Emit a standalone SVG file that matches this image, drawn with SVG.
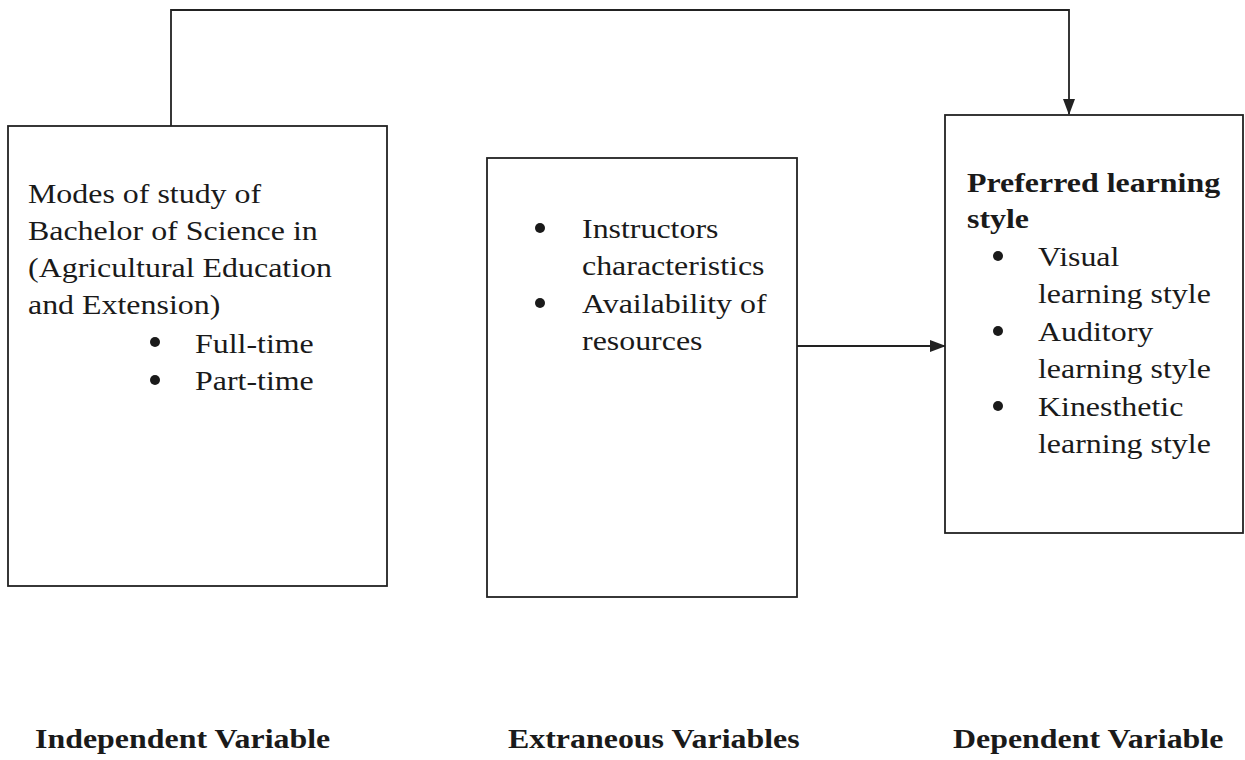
<svg xmlns="http://www.w3.org/2000/svg" width="1245" height="760" viewBox="0 0 1245 760">
<style>
.box{fill:#fff;stroke:#222;stroke-width:1.8}
.t{font-family:"Liberation Serif","Times New Roman",serif;font-size:28px;fill:#1a1a1a}
.b{font-weight:bold}
.line{fill:none;stroke:#222;stroke-width:1.8}
.dot{fill:#1a1a1a}
</style>
<defs>
<marker id="arr" markerWidth="16" markerHeight="12" refX="15" refY="6" orient="auto" markerUnits="userSpaceOnUse">
<path d="M0,0 L16,6 L0,12 Z" fill="#222"/>
</marker>
</defs>
<rect width="1245" height="760" fill="#fff"/>
<g id="connectors">
<path class="line" d="M171,126 V10 H1069 V114" marker-end="url(#arr)"/>
<path class="line" d="M796,346 H945" marker-end="url(#arr)"/>
</g>
<g id="independent">
<rect class="box" x="8" y="126" width="379" height="460"/>
<text class="t" transform="translate(28 203) scale(1.14 1)"><tspan x="0">Modes of study of</tspan><tspan x="0" dy="37">Bachelor of Science in</tspan><tspan x="0" dy="37">(Agricultural Education</tspan><tspan x="0" dy="37">and Extension)</tspan></text>
<circle class="dot" cx="155" cy="342" r="5"/>
<circle class="dot" cx="155" cy="380" r="5"/>
<text class="t" transform="translate(195 353) scale(1.14 1)">Full-time</text>
<text class="t" transform="translate(195 390) scale(1.14 1)">Part-time</text>
</g>
<g id="extraneous">
<rect class="box" x="487" y="158" width="310" height="439"/>
<circle class="dot" cx="540" cy="228" r="5"/>
<circle class="dot" cx="540" cy="303" r="5"/>
<text class="t" transform="translate(582 238) scale(1.14 1)"><tspan x="0">Instructors</tspan><tspan x="0" dy="37">characteristics</tspan></text>
<text class="t" transform="translate(582 313) scale(1.14 1)"><tspan x="0">Availability of</tspan><tspan x="0" dy="37">resources</tspan></text>
</g>
<g id="dependent">
<rect class="box" x="945" y="115" width="298" height="418"/>
<text class="t b" transform="translate(967 192) scale(1.14 1)"><tspan x="0">Preferred learning</tspan><tspan x="0" dy="36">style</tspan></text>
<circle class="dot" cx="998" cy="256" r="5"/>
<circle class="dot" cx="998" cy="331" r="5"/>
<circle class="dot" cx="998" cy="406" r="5"/>
<text class="t" transform="translate(1038 266) scale(1.14 1)"><tspan x="0">Visual</tspan><tspan x="0" dy="37">learning style</tspan></text>
<text class="t" transform="translate(1038 341) scale(1.14 1)"><tspan x="0">Auditory</tspan><tspan x="0" dy="37">learning style</tspan></text>
<text class="t" transform="translate(1038 416) scale(1.14 1)"><tspan x="0">Kinesthetic</tspan><tspan x="0" dy="37">learning style</tspan></text>
</g>
<g id="labels">
<text class="t b" transform="translate(35 748) scale(1.14 1)">Independent Variable</text>
<text class="t b" transform="translate(508 748) scale(1.14 1)">Extraneous Variables</text>
<text class="t b" transform="translate(953 748) scale(1.14 1)">Dependent Variable</text>
</g>
</svg>
